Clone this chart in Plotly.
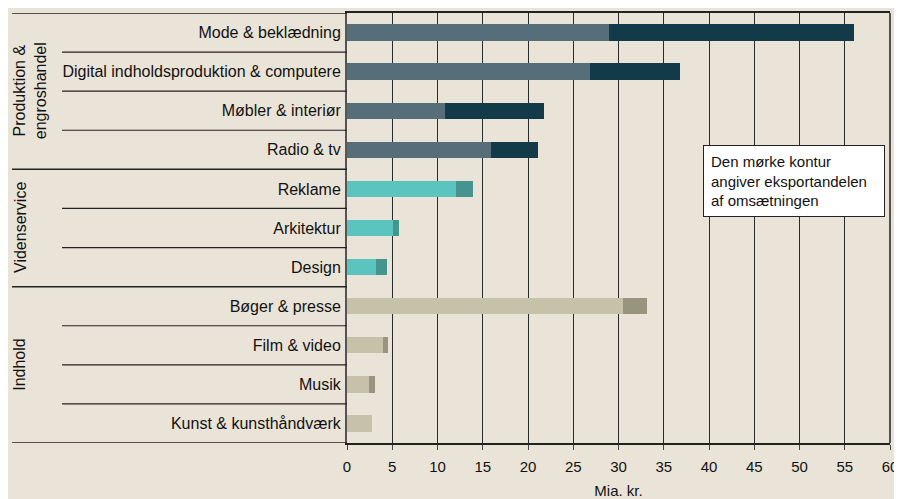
import plotly.graph_objects as go

categories = ["Mode & beklædning", "Digital indholdsproduktion & computere",
              "Møbler & interiør", "Radio & tv", "Reklame", "Arkitektur", "Design",
              "Bøger & presse", "Film & video", "Musik", "Kunst & kunsthåndværk"]
domestic = [28.9, 26.9, 10.8, 15.9, 12.0, 5.1, 3.2, 30.5, 3.95, 2.4, 2.8]
export = [27.1, 9.9, 11.0, 5.2, 1.9, 0.65, 1.2, 2.7, 0.55, 0.7, 0.0]
groups = ["Produktion &<br>engroshandel", "Videnservice", "Indhold"]
group_rows = [(0, 3), (4, 6), (7, 10)]

light = ["#566e7a"] * 4 + ["#5cc4bf"] * 3 + ["#c6c1a8"] * 4
dark = ["#133a48"] * 4 + ["#46948f"] * 3 + ["#97957e"] * 4

bg = "#eae4d8"
# page has an 8px body margin, so the figure is placed at (8, 8)
OFF = 8
fig = go.Figure()
fig.add_bar(y=categories, x=domestic, orientation="h", marker_color=light,
            marker_line_width=0, width=0.42)
fig.add_bar(y=categories, x=export, orientation="h", marker_color=dark,
            marker_line_width=0, width=0.42)

fig.update_layout(
    barmode="stack", showlegend=False, width=902 - OFF, height=499 - OFF,
    paper_bgcolor=bg, plot_bgcolor=bg,
    margin=dict(l=347 - OFF, r=12, t=13 - OFF, b=56),
    font=dict(family="Liberation Sans, Arial", size=15, color="#111"),
    xaxis=dict(range=[0, 60], dtick=5, showgrid=True, gridcolor="#2a2a2a", gridwidth=1,
               showline=True, linecolor="#222", linewidth=1.5, mirror=True,
               ticks="outside", ticklen=5, tickcolor="#444", zeroline=False,
               tickfont=dict(size=15), ticklabelstandoff=4, automargin=False,
               title=dict(text="Mia. kr.", font=dict(size=15), standoff=13)),
    yaxis=dict(autorange=False, range=[10.5, -0.5], showline=True, linecolor="#555",
               linewidth=2, mirror=False, ticks="outside", ticklen=1, tickcolor=bg,
               tickfont=dict(size=16), showgrid=False, automargin=False),
)

# right frame
fig.add_shape(type="line", xref="paper", yref="paper", x0=1, x1=1, y0=0, y1=1,
              line=dict(color="#222", width=1.5))

# separator lines on the left
px_w = 902 - 347 - 12
def px(x):
    return (x - 347) / px_w

for gi, (a, b) in enumerate(group_rows):
    fig.add_shape(type="line", xref="paper", yref="y", x0=px(12), x1=0,
                  y0=a - 0.5, y1=a - 0.5, line=dict(color="#222", width=1.5))
    for r in range(a + 1, b + 1):
        fig.add_shape(type="line", xref="paper", yref="y", x0=px(62), x1=0,
                      y0=r - 0.5, y1=r - 0.5, line=dict(color="#222", width=1.2))
    xc = 30 if "<br>" in groups[gi] else 20
    fig.add_annotation(text=groups[gi], xref="paper", yref="y", x=px(xc),
                       y=(a + b) / 2, textangle=-90, showarrow=False,
                       font=dict(size=16), xanchor="center", yanchor="middle")
fig.add_shape(type="line", xref="paper", yref="y", x0=px(12), x1=0,
              y0=10.5, y1=10.5, line=dict(color="#222", width=1.5))

fig.add_annotation(text="Den mørke kontur<br>angiver eksportandelen<br>af omsætningen",
                   xref="paper", yref="paper", x=px(703), y=1 - (145 - 13) / 430,
                   xanchor="left", yanchor="top", showarrow=False, align="left",
                   font=dict(size=15), bgcolor="white", bordercolor="#222",
                   borderwidth=1, borderpad=7, width=166)

fig.write_html("out.html")
